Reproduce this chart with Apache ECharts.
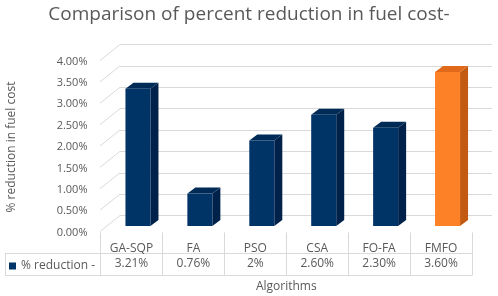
<!DOCTYPE html>
<html>
<head>
<meta charset="utf-8">
<script src="https://cdn.jsdelivr.net/npm/echarts@6/dist/echarts.min.js"></script>
<style>
  html, body { margin: 0; padding: 0; background: #fff; }
  #main { width: 498px; height: 296px; }
</style>
</head>
<body>
<div id="main"></div>
<script>
// data
var categories = ['GA-SQP', 'FA', 'PSO', 'CSA', 'FO-FA', 'FMFO'];
var reduction = [0.0321, 0.0076, 0.02, 0.026, 0.023, 0.036];
var tableLabels = ['3.21%', '0.76%', '2%', '2.60%', '2.30%', '3.60%'];
var tickValues = [0, 0.005, 0.01, 0.015, 0.02, 0.025, 0.03, 0.035, 0.04];

var FONT = '"Open Sans", sans-serif';
var TEXT = '#595959';
var GRID_LINE = '#d9d9d9';
var highlight = categories.indexOf('FMFO');

var navy = { front: '#003467', side: '#00224a', top: '#002b57' };
var orange = { front: '#fd8127', side: '#c25a12', top: '#e06a1a' };

var myChart = echarts.init(document.getElementById('main'));

function renderBar(params, api) {
    var idx = api.value(0);
    var top = api.coord([idx, api.value(1)]);
    var base = api.coord([idx, 0]);
    var w = api.size([1, 0])[0] * 0.404;
    var dx = 8, dy = 6;
    var l = top[0] - w / 2, r = top[0] + w / 2;
    var c = idx === highlight ? orange : navy;
    return {
        type: 'group',
        children: [
            { type: 'polygon', shape: { points: [[r, top[1]], [r + dx, top[1] - dy], [r + dx, base[1] - dy], [r, base[1]]] }, style: { fill: c.side } },
            { type: 'polygon', shape: { points: [[l, top[1]], [l + dx, top[1] - dy], [r + dx, top[1] - dy], [r, top[1]]] }, style: { fill: c.top } },
            { type: 'rect', shape: { x: l, y: top[1], width: w, height: base[1] - top[1] }, style: { fill: c.front } }
        ]
    };
}

function renderWall(params, api) {
    var p = api.coord([0, api.value(0)]);
    var x0 = params.coordSys.x;
    return {
        type: 'line',
        shape: { x1: x0 - 20, y1: p[1] + 16, x2: x0, y2: p[1] },
        style: { stroke: GRID_LINE, lineWidth: 1 }
    };
}

var option = {
    animation: false,
    title: {
        text: 'Comparison of percent reduction in fuel cost-',
        left: 'center',
        top: 0,
        textStyle: { fontFamily: FONT, fontSize: 19, fontWeight: 'normal', color: TEXT }
    },
    legend: {
        data: ['% reduction -'],
        left: 4,
        top: 255,
        icon: 'rect',
        itemWidth: 7,
        itemHeight: 7,
        textStyle: { fontFamily: FONT, fontSize: 12, color: TEXT }
    },
    grid: [
        { left: 120, top: 44.5, width: 372, height: 171, outerBoundsMode: 'none' },   // back wall
        { left: 100.5, top: 61.5, width: 371.5, height: 171, outerBoundsMode: 'none' }, // front plane
        { left: 107, top: 55, width: 371.5, height: 171, outerBoundsMode: 'none' }     // bars
    ],
    xAxis: [
        { gridIndex: 0, type: 'category', data: categories, show: false },
        {
            gridIndex: 1, type: 'category', data: categories, position: 'bottom',
            axisLine: { show: false },
            axisTick: { show: true, length: 43, lineStyle: { color: GRID_LINE } },
            axisLabel: { margin: 10, fontFamily: FONT, fontSize: 12, color: TEXT },
            name: 'Algorithms', nameLocation: 'middle', nameGap: 48,
            nameTextStyle: { fontFamily: FONT, fontSize: 12, color: TEXT }
        },
        {
            gridIndex: 1, type: 'category', data: categories, position: 'bottom', offset: 22,
            axisLine: { show: false }, axisTick: { show: false },
            axisLabel: {
                margin: 3, fontFamily: FONT, fontSize: 12, color: TEXT,
                formatter: function (v, i) { return tableLabels[i]; }
            }
        },
        { gridIndex: 2, type: 'category', data: categories, show: false }
    ],
    yAxis: [
        {
            gridIndex: 0, type: 'value', min: 0, max: 0.04, interval: 0.005,
            axisLabel: { show: false }, axisLine: { show: false }, axisTick: { show: false },
            splitLine: { lineStyle: { color: GRID_LINE } }
        },
        {
            gridIndex: 1, type: 'value', min: 0, max: 0.04, interval: 0.005,
            axisLine: { show: false }, axisTick: { show: false }, splitLine: { show: false },
            axisLabel: {
                margin: 13, fontFamily: FONT, fontSize: 11, color: TEXT,
                formatter: function (v) { return (v * 100).toFixed(2) + '%'; }
            },
            name: '% reduction in fuel cost', nameLocation: 'middle', nameGap: 83, nameRotate: 90,
            nameTextStyle: { fontFamily: FONT, fontSize: 12, color: TEXT }
        },
        { gridIndex: 2, type: 'value', min: 0, max: 0.04, show: false }
    ],
    series: [
        {
            type: 'custom', xAxisIndex: 0, yAxisIndex: 0, silent: true,
            data: tickValues.map(function (v) { return [v]; }),
            encode: { y: 0 },
            renderItem: renderWall
        },
        {
            name: '% reduction -',
            type: 'custom', xAxisIndex: 3, yAxisIndex: 2,
            itemStyle: { color: navy.front },
            data: reduction.map(function (v, i) { return [i, v]; }),
            encode: { x: 0, y: 1 },
            renderItem: renderBar
        }
    ],
    graphic: [
        { type: 'line', shape: { x1: 5, y1: 253.5, x2: 472, y2: 253.5 }, style: { stroke: GRID_LINE } },
        { type: 'line', shape: { x1: 5, y1: 275.5, x2: 472, y2: 275.5 }, style: { stroke: GRID_LINE } },
        { type: 'line', shape: { x1: 5.5, y1: 253.5, x2: 5.5, y2: 275.5 }, style: { stroke: GRID_LINE } }
    ]
};

myChart.setOption(option);
</script>
</body>
</html>
